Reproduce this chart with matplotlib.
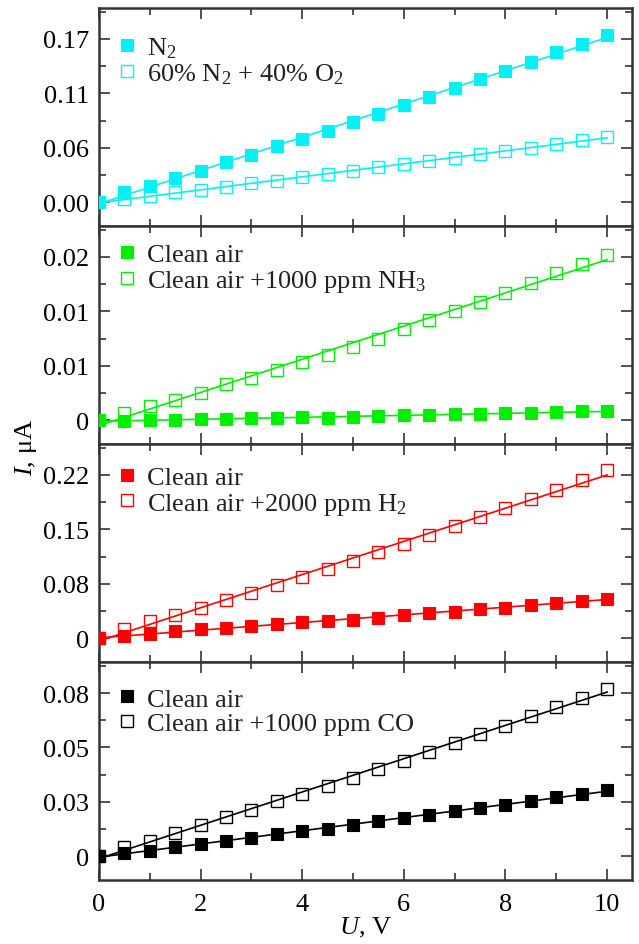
import numpy as np
import matplotlib
matplotlib.use("Agg")
import matplotlib.pyplot as plt
from matplotlib.ticker import MultipleLocator, FixedLocator, FixedFormatter

plt.rcParams['font.family'] = ['Liberation Serif', 'DejaVu Serif']
plt.rcParams['mathtext.fontset'] = 'custom'
plt.rcParams['mathtext.rm'] = 'Liberation Serif'
plt.rcParams['mathtext.it'] = 'Liberation Serif:italic'

U = np.arange(0, 10.01, 0.5)

# Panel 1 (N2 vs 60% N2 + 40% O2)
n2 = [0.0, 0.0101, 0.0170, 0.0247, 0.0326, 0.0413, 0.0493, 0.0583, 0.0656, 0.0743, 0.0830,
      0.0920, 0.1011, 0.1098, 0.1188, 0.1278, 0.1368, 0.1455, 0.1560, 0.1646, 0.1743]
n2o2 = [0.0, 0.0031, 0.0059, 0.0101, 0.0122, 0.0160, 0.0195, 0.0222, 0.0264, 0.0292, 0.0326,
        0.0362, 0.0396, 0.0430, 0.0462, 0.0500, 0.0528, 0.0563, 0.0604, 0.0646, 0.0680]
# Panel 2 (NH3)
air_nh3 = [0.0, -0.0001, 0.0, 0.0, 0.0001, 0.00017, 0.00025, 0.00025, 0.00033, 0.0003, 0.00037,
           0.00049, 0.00057, 0.0006, 0.0007, 0.00078, 0.00082, 0.0009, 0.00098, 0.00106, 0.0011]
nh3 = [0.0, 0.0009, 0.0017, 0.0025, 0.0033, 0.0044, 0.0052, 0.0061, 0.0071, 0.0080, 0.0090,
       0.0100, 0.0112, 0.0123, 0.0134, 0.0145, 0.0156, 0.0168, 0.0180, 0.0191, 0.0203]
# Panel 3 (H2)
air_h2 = [0.0, 0.0023, 0.0060, 0.0092, 0.0120, 0.0143, 0.0166, 0.0198, 0.0221, 0.0230, 0.0253,
          0.0281, 0.0313, 0.0346, 0.0360, 0.0396, 0.0419, 0.0461, 0.0489, 0.0512, 0.0544]
h2 = [0.0, 0.0129, 0.0230, 0.0323, 0.0415, 0.0520, 0.0627, 0.0738, 0.0844, 0.0959, 0.1066,
      0.1181, 0.1296, 0.1420, 0.1545, 0.1665, 0.1790, 0.1918, 0.2043, 0.2181, 0.2320]
# Panel 4 (CO)
air_co = [0.0, 0.0016, 0.0027, 0.0044, 0.0060, 0.0076, 0.0090, 0.0109, 0.0122, 0.0134, 0.0155,
          0.0170, 0.0186, 0.0204, 0.0220, 0.0235, 0.0253, 0.0269, 0.0289, 0.0305, 0.0325]
co = [0.0, 0.0044, 0.0076, 0.0114, 0.0153, 0.0191, 0.0228, 0.0268, 0.0305, 0.0343, 0.0384,
      0.0428, 0.0468, 0.0513, 0.0555, 0.0599, 0.0640, 0.0686, 0.0730, 0.0776, 0.0820]

tick_steps = [0.17 / 3, 0.02 / 3, 0.075, 0.08 / 3]
tick_labels = [["0.00", "0.06", "0.11", "0.17"],
               ["0", "0.01", "0.01", "0.02"],
               ["0", "0.08", "0.15", "0.22"],
               ["0", "0.03", "0.05", "0.08"]]
colors = ['#05F0F5', '#00EE00', '#FF0000', '#000000']
series = [(n2, n2o2), (air_nh3, nh3), (air_h2, h2), (air_co, co)]
labels = [("N$_2$", "60% N$_2$ + 40% O$_2$"),
          ("Clean air", "Clean air +1000 ppm NH$_3$"),
          ("Clean air", "Clean air +2000 ppm H$_2$"),
          ("Clean air", "Clean air +1000 ppm CO")]
legend_y = [0.875, 0.922, 0.90, 0.885]

FS = 19
fig = plt.figure(figsize=(6.39, 9.45), dpi=100)
left, right = 0.155, 0.989
top, bottom = 0.9905, 0.0677
h = (top - bottom) / 4
spine_col = '#333333'

axes = []
for i in range(4):
    ax = fig.add_axes([left, top - (i + 1) * h, right - left, h])
    axes.append(ax)
    c = colors[i]
    s = tick_steps[i]
    filled, opened = series[i]
    lf, lo = labels[i]
    for yv in (filled, opened):
        p = np.polyfit(U, yv, 1)
        xl = np.array([0, 10])
        ax.plot(xl, np.polyval(p, xl), color=c, lw=1.2, zorder=2)
    ax.plot(U, filled, 's', color=c, ms=8.5, mec=c, mew=0.8, label=lf, zorder=3)
    ax.plot(U, opened, 's', mfc='none', mec=c, ms=8.5, mew=1.0, label=lo, zorder=4)
    ax.set_xlim(0, 10.49)
    ax.set_ylim(-0.44 * s, 3.57 * s)
    ax.yaxis.set_major_locator(FixedLocator([k * s for k in range(4)]))
    ax.yaxis.set_major_formatter(FixedFormatter(tick_labels[i]))
    ax.yaxis.set_minor_locator(FixedLocator([(k + 0.5) * s for k in range(-1, 4)]))
    ax.xaxis.set_major_locator(MultipleLocator(2))
    ax.xaxis.set_minor_locator(MultipleLocator(1))
    ax.tick_params(which='both', direction='in', top=True, right=True,
                   color=spine_col, width=1.2)
    ax.tick_params(which='major', length=8, labelsize=FS, pad=7)
    ax.tick_params(axis='x', which='major', pad=9)
    ax.tick_params(which='minor', length=5)
    for sp in ax.spines.values():
        sp.set_linewidth(1.8)
        sp.set_color(spine_col)
    if i < 3:
        ax.tick_params(axis='x', labelbottom=False)
    leg = ax.legend(loc='upper left', frameon=False, fontsize=FS, handletextpad=0.3,
                    handlelength=0.9, borderaxespad=0.0, labelspacing=0.05,
                    borderpad=0.0, bbox_to_anchor=(0.03, legend_y[i]))
    for t in leg.get_texts():
        t.set_color('#222222')

axes[3].set_xlabel("$U$, V", fontsize=FS, labelpad=0)
fig.text(0.04, 0.526, "$I$, μA", rotation=90, fontsize=FS, ha='center', va='center')

fig.savefig("out.png", dpi=100)
